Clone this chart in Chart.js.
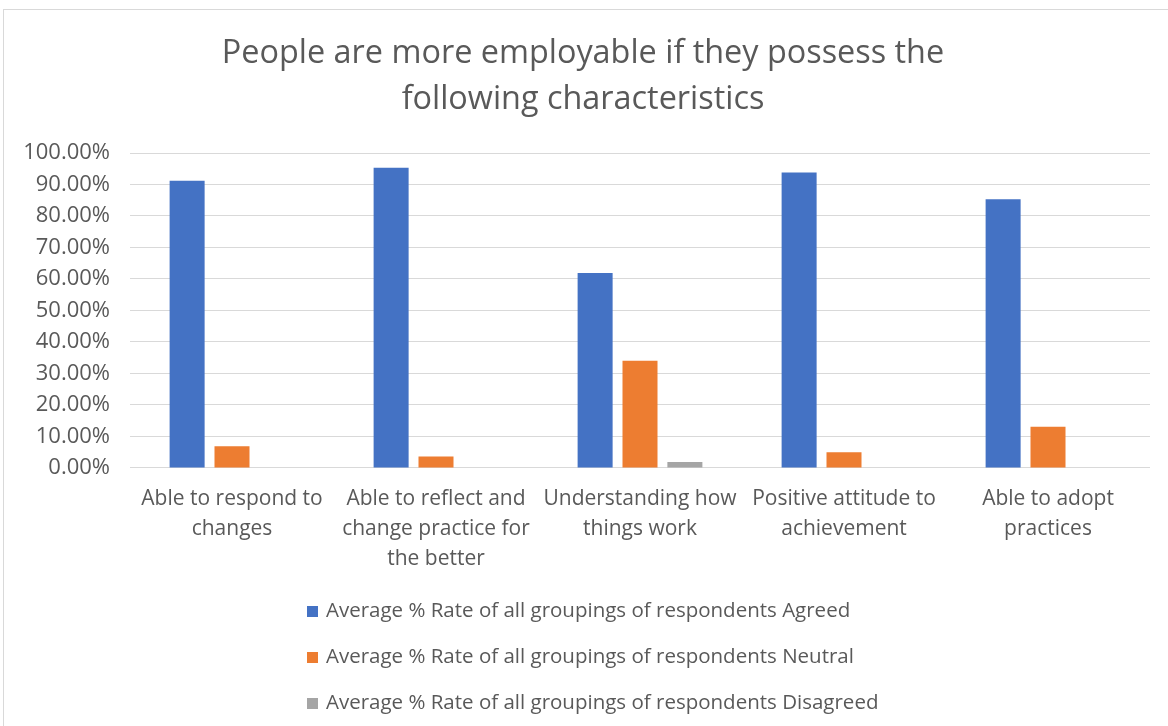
<!DOCTYPE html>
<html>
<head>
<meta charset="utf-8">
<script src="https://cdn.jsdelivr.net/npm/chart.js@4.4.1/dist/chart.umd.min.js"></script>
<style>
  html, body { margin: 0; padding: 0; background: #ffffff; overflow: hidden; }
  #wrap { position: relative; width: 1168px; height: 726px; }
  #frame { position: absolute; left: 3px; top: 9px; width: 1200px; height: 800px; border: 1px solid #d9d9d9; box-sizing: border-box; }
  canvas { position: absolute; left: 0; top: 0; }
</style>
</head>
<body>
<div id="wrap">
  <div id="frame"></div>
  <canvas id="c" width="1168" height="726"></canvas>
</div>
<script>
const titleLines = ["People are more employable if they possess the", "following characteristics"];
const categories = [
  ["Able to respond to", "changes"],
  ["Able to reflect and", "change practice for", "the better"],
  ["Understanding how", "things work"],
  ["Positive attitude to", "achievement"],
  ["Able to adopt", "practices"]
];
const seriesNames = [
  "Average % Rate of all groupings of respondents Agreed",
  "Average % Rate of all groupings of respondents Neutral",
  "Average % Rate of all groupings of respondents Disagreed"
];
const agreed = [91.2, 95.3, 61.9, 93.8, 85.3];
const neutral = [6.9, 3.6, 34.0, 5.0, 13.1];
const disagreed = [0, 0, 1.9, 0, 0];
const yTicks = [0, 10, 20, 30, 40, 50, 60, 70, 80, 90, 100];
const colors = ["#4472C4", "#ED7D31", "#A5A5A5"];

const FONT = "'Open Sans'";
const TEXT = "#595959";

const vLegend = {
  id: 'vLegend',
  afterDraw(chart) {
    const ctx = chart.ctx;
    ctx.save();
    ctx.font = `20.5px ${FONT}`;
    const items = chart.data.datasets.map(d => ({ text: d.label, color: d.backgroundColor }));
    const maxW = Math.max(...items.map(i => ctx.measureText(i.text).width));
    const box = 11, gap = 8;
    const blockW = box + gap + maxW;
    const cx = (16 + chart.width) / 2 + 1;
    const x0 = Math.round(cx - blockW / 2);
    const y0 = chart.scales.x.bottom + 29;
    items.forEach((it, i) => {
      const y = y0 + i * 46;
      ctx.fillStyle = it.color;
      ctx.fillRect(x0, Math.round(y - 5.5), box, box);
      ctx.fillStyle = TEXT;
      ctx.textBaseline = 'middle';
      ctx.textAlign = 'left';
      ctx.fillText(it.text, x0 + box + gap, y);
    });
    ctx.restore();
  }
};

const datasets = [agreed, neutral, disagreed].map((vals, i) => ({
  label: seriesNames[i],
  data: vals,
  backgroundColor: colors[i],
  borderWidth: 0,
  categoryPercentage: 0.66,
  barPercentage: 0.78
}));

new Chart(document.getElementById('c'), {
  type: 'bar',
  data: { labels: categories, datasets },
  plugins: [vLegend],
  options: {
    responsive: false,
    animation: false,
    devicePixelRatio: 1,
    layout: { padding: { left: 16, right: 18, top: 0, bottom: 144 } },
    plugins: {
      legend: { display: false },
      tooltip: { enabled: false },
      title: {
        display: true,
        text: titleLines,
        color: TEXT,
        font: { family: FONT, size: 32.4, weight: 'normal', lineHeight: 1.42 },
        padding: { top: 31, bottom: 30 }
      }
    },
    scales: {
      x: {
        grid: { display: false },
        border: { display: false },
        ticks: {
          color: TEXT,
          font: { family: FONT, size: 21, lineHeight: 1.43 },
          padding: 8,
          maxRotation: 0,
          autoSkip: false
        }
      },
      y: {
        min: 0,
        max: 100,
        afterBuildTicks: (scale) => { scale.ticks = yTicks.map(v => ({ value: v })); },
        afterFit: (scale) => { scale.width = 114; },
        grid: { color: '#d9d9d9', lineWidth: 1, drawTicks: false },
        border: { display: false },
        ticks: {
          color: TEXT,
          font: { family: FONT, size: 22 },
          padding: 20,
          callback: (v) => Number(v).toFixed(2) + '%'
        }
      }
    }
  }
});
</script>
</body>
</html>
